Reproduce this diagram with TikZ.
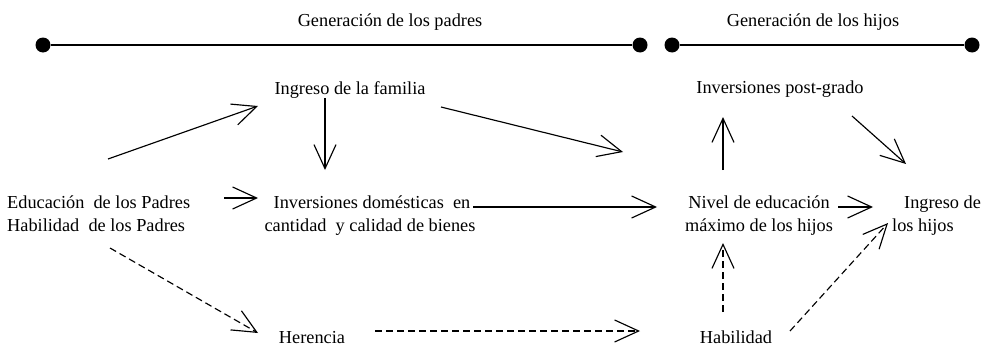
\documentclass[tikz,border=0pt]{standalone}
\usepackage{fontspec}
\setmainfont{Liberation Serif}
\usetikzlibrary{arrows.meta}
\begin{document}
\begin{tikzpicture}[x=1pt,y=-1pt,
  lbl/.style={inner sep=0pt, anchor=base, font=\fontsize{18.3}{23}\selectfont},
  lbll/.style={lbl, anchor=base west},
  arr/.style={line width=1.15pt, -{Straight Barb[length=24pt,width=22pt]}},
  darr/.style={arr, dash pattern=on 7pt off 4pt},
  timeline/.style={line width=1.5pt},
  dot/.style={circle, fill=black, inner sep=0pt, minimum size=15pt}]
\useasboundingbox (0,0) rectangle (987,348);

% generation time lines
\node[dot] (pa) at (43,45) {};
\node[dot] (pb) at (640,45) {};
\node[dot] (ha) at (672,45) {};
\node[dot] (hb) at (972,45) {};
\draw[timeline] (pa) -- (pb);
\draw[timeline] (ha) -- (hb);
\node[lbl] (genp) at (390,26) {Generación de los padres};
\node[lbl] (genh) at (813,26) {Generación de los hijos};

% labels
\node[lbl] (fam) at (350,94) {Ingreso de la familia};
\node[lbl] (post) at (780,93) {Inversiones post-grado};
\node[lbll] (edua) at (7,208) {Educación\ \ de los Padres};
\node[lbll] (edub) at (7,231) {Habilidad\ \ de los Padres};
\node[lbl] (inva) at (372,208) {Inversiones domésticas\ \ en};
\node[lbl] (invb) at (370,231) {cantidad\ \ y calidad de bienes};
\node[lbl] (her) at (312,343) {Herencia};
\node[lbl] (niva) at (759,208) {Nivel de educación};
\node[lbl] (nivb) at (759,231) {máximo de los hijos};
\node[lbll] (inga) at (904,208) {Ingreso de};
\node[lbll] (ingb) at (892,231) {los hijos};
\node[lbl] (hab) at (736,343) {Habilidad};

% connector ends
\coordinate (e1) at (108,159);  \coordinate (f1) at (258,106);
\coordinate (f2) at (325,98);   \coordinate (i2) at (325,170);
\coordinate (f3) at (441,107);  \coordinate (n3) at (623,152);
\coordinate (e4) at (224,198);  \coordinate (i4) at (258,198);
\coordinate (i5) at (473,207);  \coordinate (n5) at (657,207);
\coordinate (n6) at (723,170);  \coordinate (p6) at (723,117);
\coordinate (p7) at (852,116);  \coordinate (g7) at (906,164);
\coordinate (n8) at (838,207);  \coordinate (g8) at (873,207);
\coordinate (e9) at (110,248);  \coordinate (h9) at (258,333);
\coordinate (h10) at (375,331); \coordinate (b10) at (640,331);
\coordinate (b11) at (723,312); \coordinate (n11) at (723,243);
\coordinate (b12) at (790,331); \coordinate (g12) at (888,223);

% solid effects
\draw[arr] (e1) -- (f1);
\draw[arr] (f2) -- (i2);
\draw[arr] (f3) -- (n3);
\draw[arr] (e4) -- (i4);
\draw[arr] (i5) -- (n5);
\draw[arr] (n6) -- (p6);
\draw[arr] (p7) -- (g7);
\draw[arr] (n8) -- (g8);

% inherited effects
\draw[darr] (e9) -- (h9);
\draw[darr] (h10) -- (b10);
\draw[darr] (b11) -- (n11);
\draw[darr] (b12) -- (g12);
\end{tikzpicture}
\end{document}
